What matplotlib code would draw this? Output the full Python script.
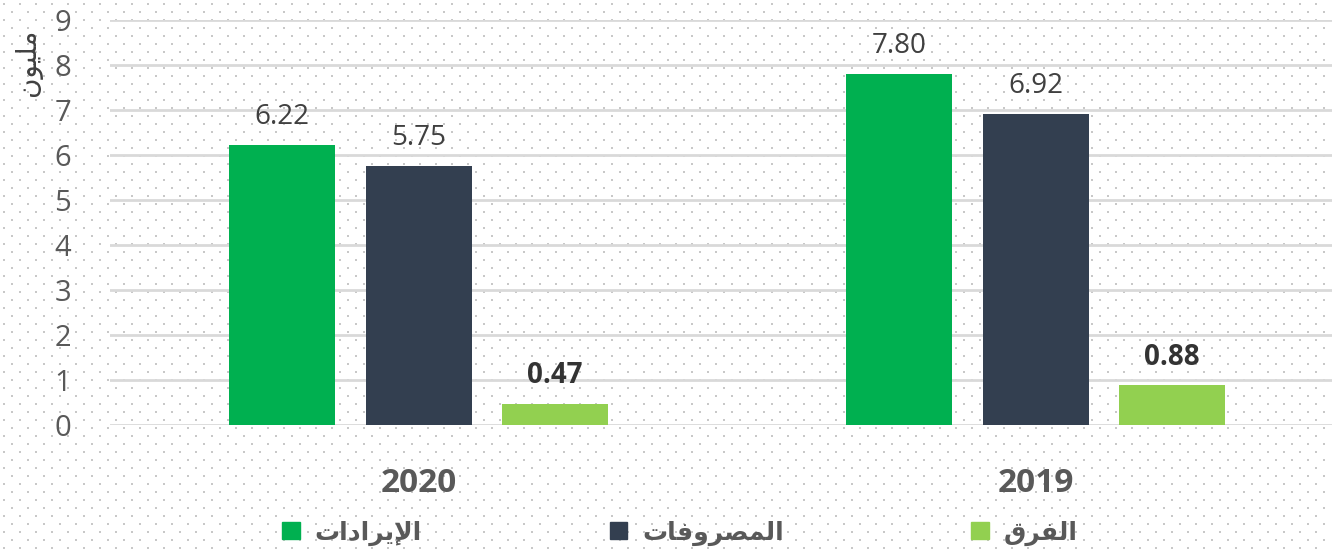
import numpy as np
import matplotlib.pyplot as plt
from matplotlib.patches import Patch

# data
years = ["2020", "2019"]
revenue = [6.22, 7.80]
expenses = [5.75, 6.92]
difference = [0.47, 0.88]

# Arabic labels, written in presentation forms (visual order) since matplotlib has no shaping
label_revenue = "\ufe95\ufe8d\ufea9\ufe8d\ufeae\ufef3\ufef9\ufe8d"      # الإيرادات
label_expenses = "\ufe95\ufe8e\ufed3\ufeed\ufeae\ufebc\ufee4\ufedf\ufe8d"  # المصروفات
label_diff = "\ufed5\ufeae\ufed4\ufedf\ufe8d"                            # الفرق
label_unit = "\ufee5\ufeee\ufef4\ufee0\ufee3"                            # مليون

c_rev = "#00B050"
c_exp = "#333F50"
c_diff = "#92D050"
text_gray = "#595959"

plt.rcParams['font.family'] = ['Open Sans', 'DejaVu Sans']

fig = plt.figure(figsize=(13.32, 5.53), dpi=100)

# dotted background pattern
W, H = 1332, 553
dots = []
for j, yy in enumerate(np.arange(4, H, 8)):
    off = 0 if j % 2 == 0 else 8
    for xx in np.arange(4 + off, W, 16):
        dots.append((xx / W, 1 - yy / H))
dots = np.array(dots)
fig.add_artist(plt.Line2D(dots[:, 0], dots[:, 1], linestyle="none", marker="s",
                          markersize=1.6, markeredgewidth=0, color="#C8C8C8",
                          transform=fig.transFigure, zorder=0))

ax = fig.add_axes([110 / W, 128 / H, 1 - 110 / W, 405 / H])
ax.patch.set_alpha(0)

x = np.arange(len(years))
off = 0.221
w = 0.172
b1 = ax.bar(x - off, revenue, w, color=c_rev, zorder=3)
b2 = ax.bar(x, expenses, w, color=c_exp, zorder=3)
b3 = ax.bar(x + off, difference, w, color=c_diff, zorder=3)

for bars, vals, weight, col in [(b1, revenue, "normal", "#404040"),
                                (b2, expenses, "normal", "#404040"),
                                (b3, difference, "bold", "#333333")]:
    for rect, v in zip(bars, vals):
        ax.annotate(f"{v:.2f}", (rect.get_x() + rect.get_width() / 2, v),
                    xytext=(0, 10), textcoords="offset points",
                    ha="center", va="bottom", fontsize=20, fontweight=weight, color=col)

ax.set_xlim(-0.5, 1.48)
ax.set_ylim(0, 9)
ax.set_yticks(range(0, 10))
ax.tick_params(axis="y", length=0, pad=28, labelsize=21, labelcolor=text_gray)
ax.tick_params(axis="x", length=0)
ax.set_xticks([])
ax.yaxis.grid(True, color="#D9D9D9", linewidth=2, zorder=1)
for s in ax.spines.values():
    s.set_visible(False)

for xi, yr in zip(x, years):
    ax.text(xi, -1.3, yr, ha="center", va="center", fontsize=24, fontweight="bold",
            color=text_gray, transform=ax.transData)

fig.text(28 / W, 1 - 62 / H, label_unit, rotation=90, ha="center", va="center",
         fontsize=20, color="#404040", family="DejaVu Sans")

handles = [Patch(color=c_rev), Patch(color=c_exp), Patch(color=c_diff)]
leg = fig.legend(handles, [label_revenue, label_expenses, label_diff], ncol=3,
                 loc="center", bbox_to_anchor=(680 / W, 1 - 533 / H), frameon=False,
                 prop={"family": "DejaVu Sans", "weight": "bold", "size": 18},
                 handlelength=0.7, handleheight=0.7, handletextpad=0.6, columnspacing=7.5)
for t in leg.get_texts():
    t.set_color(text_gray)

fig.savefig("out.png", dpi=100)
